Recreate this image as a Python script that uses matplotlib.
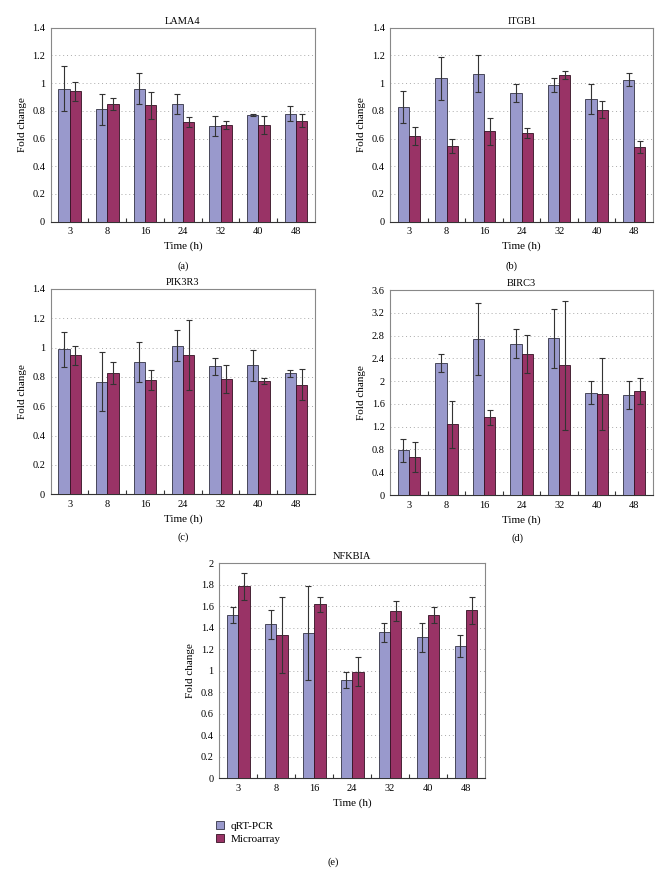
import matplotlib
matplotlib.use("Agg")
import matplotlib.pyplot as plt
import numpy as np

plt.rcParams['font.family'] = ['Liberation Serif', 'DejaVu Serif']

times = ["3", "8", "16", "24", "32", "40", "48"]

# LAMA4
lama4_qpcr = [0.96, 0.81, 0.96, 0.85, 0.69, 0.77, 0.78]
lama4_qpcr_err = [0.16, 0.115, 0.11, 0.075, 0.075, 0.008, 0.055]
lama4_micro = [0.94, 0.85, 0.84, 0.72, 0.70, 0.70, 0.73]
lama4_micro_err = [0.07, 0.045, 0.096, 0.034, 0.03, 0.064, 0.049]

# ITGB1
itgb1_qpcr = [0.825, 1.034, 1.068, 0.926, 0.984, 0.883, 1.025]
itgb1_qpcr_err = [0.115, 0.156, 0.135, 0.065, 0.05, 0.108, 0.048]
itgb1_micro = [0.618, 0.548, 0.652, 0.64, 1.061, 0.808, 0.539]
itgb1_micro_err = [0.065, 0.05, 0.098, 0.034, 0.029, 0.06, 0.046]

# PIK3R3
pik3r3_qpcr = [0.989, 0.769, 0.902, 1.014, 0.872, 0.879, 0.826]
pik3r3_qpcr_err = [0.12, 0.2, 0.135, 0.105, 0.057, 0.103, 0.025]
pik3r3_micro = [0.947, 0.828, 0.78, 0.95, 0.787, 0.773, 0.748]
pik3r3_micro_err = [0.062, 0.075, 0.07, 0.24, 0.094, 0.023, 0.105]

# BIRC3
birc3_qpcr = [0.784, 2.318, 2.74, 2.658, 2.75, 1.80, 1.756]
birc3_qpcr_err = [0.2, 0.15, 0.63, 0.25, 0.52, 0.2, 0.24]
birc3_micro = [0.667, 1.241, 1.364, 2.48, 2.277, 1.77, 1.826]
birc3_micro_err = [0.27, 0.41, 0.135, 0.33, 1.13, 0.63, 0.22]

# NFKBIA
nfkbia_qpcr = [1.522, 1.433, 1.349, 0.918, 1.358, 1.312, 1.231]
nfkbia_qpcr_err = [0.075, 0.134, 0.437, 0.074, 0.09, 0.136, 0.105]
nfkbia_micro = [1.786, 1.33, 1.619, 0.992, 1.557, 1.52, 1.563]
nfkbia_micro_err = [0.127, 0.355, 0.068, 0.134, 0.09, 0.077, 0.124]

QPCR_COLOR = "#9999cc"
MICRO_COLOR = "#993366"
W, H = 666, 869


def panel(rect, title, qpcr, qpcr_err, micro, micro_err, ymax, ystep, fmt):
    ax = fig.add_axes(rect)
    x = np.arange(len(times))
    w = 0.3
    ekw = dict(ecolor="#333333", elinewidth=0.8, capsize=2.5, capthick=0.8)
    ax.bar(x - w / 2, qpcr, w, yerr=qpcr_err, color=QPCR_COLOR,
           edgecolor="#333344", linewidth=0.6, error_kw=ekw, label="qRT-PCR", zorder=3)
    ax.bar(x + w / 2, micro, w, yerr=micro_err, color=MICRO_COLOR,
           edgecolor="#331122", linewidth=0.6, error_kw=ekw, label="Microarray", zorder=3)
    ax.set_xlim(-0.5, len(times) - 0.5)
    ax.set_ylim(0, ymax)
    yt = np.arange(0, ymax + ystep / 2, ystep)
    ax.set_yticks(yt)
    ax.set_yticklabels([fmt(v) for v in yt])
    for v in yt[1:-1]:
        ax.axhline(v, color="#aaaaaa", linestyle=(0, (1, 3)), linewidth=0.7, zorder=1)
    ax.set_xticks(x)
    ax.set_xticklabels(times)
    ax.set_xticks(np.arange(0.5, len(times) - 1, 1), minor=True)
    ax.tick_params(axis="x", which="major", length=0, labelsize=7.5, pad=4)
    ax.tick_params(axis="x", which="minor", direction="in", length=3, width=0.8, color="#333333")
    ax.tick_params(axis="y", length=0, labelsize=7.5, pad=4)
    for s in ax.spines.values():
        s.set_color("#888888")
        s.set_linewidth(0.8)
    ax.spines["bottom"].set_color("#333333")
    ax.set_title(title, fontsize=7.5, pad=3)
    ax.set_xlabel("Time (h)", fontsize=8)
    ax.set_ylabel("Fold change", fontsize=8)
    return ax


def fmt_val(v):
    s = "%.1f" % v
    if s.endswith(".0"):
        s = s[:-2]
    return s


fig = plt.figure(figsize=(W / 100, H / 100), dpi=100)

panel([50.7 / W, 1 - 221.7 / H, 264.3 / W, 194 / H], "LAMA4",
      lama4_qpcr, lama4_qpcr_err, lama4_micro, lama4_micro_err, 1.4, 0.2, fmt_val)
panel([390.3 / W, 1 - 221.7 / H, 262.7 / W, 194 / H], "ITGB1",
      itgb1_qpcr, itgb1_qpcr_err, itgb1_micro, itgb1_micro_err, 1.4, 0.2, fmt_val)
panel([50.7 / W, 1 - 494.3 / H, 264.3 / W, 205.3 / H], "PIK3R3",
      pik3r3_qpcr, pik3r3_qpcr_err, pik3r3_micro, pik3r3_micro_err, 1.4, 0.2, fmt_val)
panel([390.3 / W, 1 - 495 / H, 262.7 / W, 205 / H], "BIRC3",
      birc3_qpcr, birc3_qpcr_err, birc3_micro, birc3_micro_err, 3.6, 0.4, fmt_val)
ax_e = panel([219.3 / W, 1 - 778.3 / H, 265.7 / W, 215 / H], "NFKBIA",
             nfkbia_qpcr, nfkbia_qpcr_err, nfkbia_micro, nfkbia_micro_err, 2.0, 0.2, fmt_val)

for lab, px, py in [("(a)", 183, 266), ("(b)", 511, 266), ("(c)", 183, 537),
                    ("(d)", 518, 538), ("(e)", 333, 862)]:
    fig.text(px / W, 1 - py / H, lab, ha="center", va="center", fontsize=7.5)

fig.legend(*ax_e.get_legend_handles_labels(), loc="upper left",
           bbox_to_anchor=(212 / W, 1 - 817 / H), frameon=False, fontsize=8,
           handlelength=0.7, handleheight=0.7, handletextpad=0.6, labelspacing=0.25,
           borderaxespad=0)

fig.savefig("out.png", dpi=100)
